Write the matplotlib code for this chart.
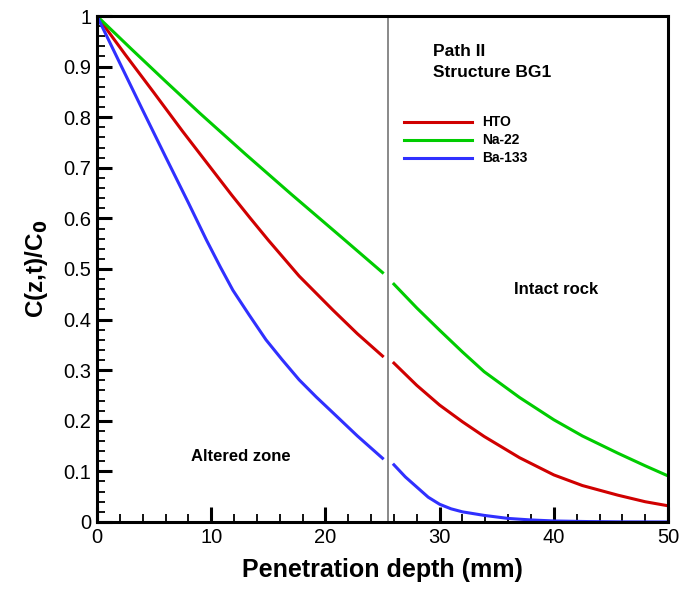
import matplotlib
matplotlib.use("Agg")
import matplotlib.pyplot as plt
from matplotlib.ticker import MultipleLocator

plt.rcParams['font.family'] = ['Liberation Sans', 'DejaVu Sans']

# Zone altérée (gauche de l'interface)
x_alt_hto = [0, 2.5, 5, 7.5, 9, 11.8, 13.4, 15, 17.7, 20.65, 22.8, 25]
hto_alt = [1, 0.923, 0.848, 0.772, 0.728, 0.646, 0.601, 0.557, 0.486, 0.419, 0.372, 0.328]
x_alt_na = [0, 3, 6, 9, 13, 17, 21.4, 25]
na_alt = [1, 0.935, 0.871, 0.808, 0.727, 0.648, 0.563, 0.493]
x_alt_ba = [0, 2, 4, 6, 8, 9.59, 10.8, 11.9, 13.3, 14.8, 16.2, 17.7, 19.2, 20.7, 22.8, 25]
ba_alt = [1, 0.907, 0.814, 0.722, 0.631, 0.557, 0.504, 0.458, 0.41, 0.36, 0.321, 0.281,
          0.247, 0.215, 0.17, 0.126]

# Roche intacte (droite de l'interface)
x_int = [26, 28, 30, 32, 33.9, 37, 40, 42.5, 45.6, 48, 50]
hto_int = [0.314, 0.27, 0.231, 0.198, 0.169, 0.127, 0.093, 0.072, 0.053, 0.040, 0.032]
na_int = [0.470, 0.423, 0.379, 0.336, 0.297, 0.246, 0.202, 0.17, 0.136, 0.111, 0.091]
x_int_ba = [26, 27, 28, 29, 30, 31, 32, 33.9, 36, 38, 40, 43, 46, 50]
ba_int = [0.113, 0.089, 0.069, 0.049, 0.035, 0.026, 0.020, 0.013, 0.007, 0.004, 0.002, 0.0008, 0.0002, 0.0]

interface = 25.5
noms = ["HTO", "Na-22", "Ba-133"]
couleurs = ["#d00000", "#00cc00", "#3030ff"]

fig = plt.figure(figsize=(6.81, 5.89), dpi=100)
ax = fig.add_axes([0.1424, 0.1138, 0.8386, 0.859])

ax.axvline(interface, color="#808080", lw=1.3)

ax.plot(x_alt_hto, hto_alt, color=couleurs[0], lw=2.2)
ax.plot(x_alt_na, na_alt, color=couleurs[1], lw=2.2)
ax.plot(x_alt_ba, ba_alt, color=couleurs[2], lw=2.2)
ax.plot(x_int, hto_int, color=couleurs[0], lw=2.2)
ax.plot(x_int, na_int, color=couleurs[1], lw=2.2)
ax.plot(x_int_ba, ba_int, color=couleurs[2], lw=2.2)

# Légende faite à la main
y_leg = [0.79, 0.755, 0.72]
for nom, c, yl in zip(noms, couleurs, y_leg):
    ax.plot([26.9, 32.8], [yl, yl], color=c, lw=2.2)
    ax.text(33.7, yl, nom, fontsize=10, fontweight="bold", va="center")

ax.text(29.4, 0.929, "Path II", fontsize=12.5, fontweight="bold", va="center")
ax.text(29.4, 0.889, "Structure BG1", fontsize=12.5, fontweight="bold", va="center")
ax.text(36.5, 0.46, "Intact rock", fontsize=12, fontweight="bold", va="center")
ax.text(8.2, 0.13, "Altered zone", fontsize=12, fontweight="bold", va="center")

ax.set_xlim(0, 50)
ax.set_ylim(0, 1)
ax.xaxis.set_major_locator(MultipleLocator(10))
ax.xaxis.set_minor_locator(MultipleLocator(2))
ax.yaxis.set_minor_locator(MultipleLocator(0.02))
ax.set_yticks([0, 0.1, 0.2, 0.3, 0.4, 0.5, 0.6, 0.7, 0.8, 0.9, 1])
ax.set_yticklabels(["0", "0.1", "0.2", "0.3", "0.4", "0.5", "0.6", "0.7", "0.8", "0.9", "1"])
ax.tick_params(which="major", direction="in", length=11, width=2.2, labelsize=14.5, pad=4)
ax.tick_params(which="minor", direction="in", length=6, width=1.3)
for s in ax.spines.values():
    s.set_linewidth(2.2)

ax.set_xlabel("Penetration depth (mm)", fontsize=18, fontweight="bold", labelpad=8)
ax.set_ylabel(r"C(z,t)/C$_\mathbf{0}$", fontsize=17.5, fontweight="bold", labelpad=10)

fig.savefig("out.png", dpi=100)
